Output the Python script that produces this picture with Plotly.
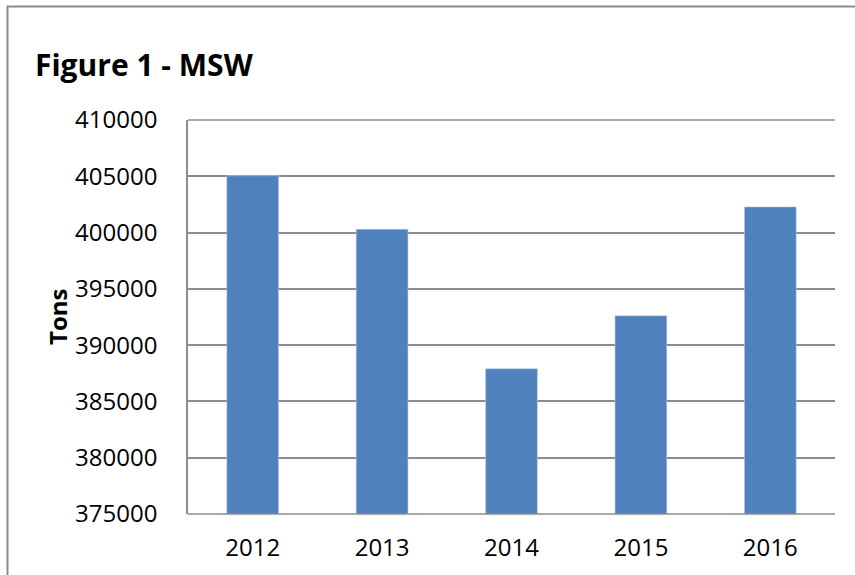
import plotly.graph_objects as go

years = ["2012", "2013", "2014", "2015", "2016"]
tons = [405050, 400290, 387900, 392610, 402280]
y_ticks = [375000, 380000, 385000, 390000, 395000, 400000, 405000, 410000]

W, H = 855, 575
L, R, T, B = 188, 835, 120, 514

fig = go.Figure()
fig.add_trace(go.Bar(
    x=years, y=tons,
    marker=dict(color="#4F81BD", line=dict(color="#B9CDE5", width=0.6)),
    width=0.4,
))

pw, ph = R - L, B - T
def px_x(x):
    return (x - L) / pw
def px_y(y):
    return (B - y) / ph

fig.update_layout(
    width=W, height=H,
    margin=dict(l=L, r=W - R, t=T, b=H - B, pad=0),
    paper_bgcolor="white", plot_bgcolor="white",
    font=dict(family="Open Sans", size=24, color="black"),
    showlegend=False,
    title=dict(text="<b>Figure 1 - MSW</b>", x=35 / W, xanchor="left",
               y=1 - 65 / H, yanchor="middle", xref="container", yref="container",
               font=dict(size=30, family="Open Sans", color="black")),
    xaxis=dict(showgrid=False, showline=False, zeroline=False, ticks="",
               ticklabelstandoff=17, tickfont=dict(size=24)),
    yaxis=dict(range=[375000, 410000], tickvals=y_ticks,
               ticktext=[str(v) for v in y_ticks],
               showgrid=True, gridcolor="#8C8C8C", gridwidth=1.5,
               showline=True, linecolor="#8C8C8C", linewidth=1.5,
               zeroline=False, ticks="", ticklabelstandoff=24,
               tickfont=dict(size=24)),
    shapes=[
        dict(type="rect", xref="paper", yref="paper",
             x0=px_x(7.5), x1=px_x(900), y0=px_y(620), y1=px_y(6.5),
             line=dict(color="#8C8C8C", width=2), layer="below"),
        dict(type="line", xref="paper", yref="paper",
             x0=0, x1=1, y0=0, y1=0,
             line=dict(color="#8C8C8C", width=1.5)),
        dict(type="line", xref="paper", yref="paper",
             x0=0, x1=1, y0=1, y1=1,
             line=dict(color="#8C8C8C", width=1.5)),
    ],
    annotations=[
        dict(text="<b>Tons</b>", xref="paper", yref="paper",
             x=px_x(57), y=px_y(317), textangle=-90, showarrow=False,
             xanchor="center", yanchor="middle",
             font=dict(size=24, family="Open Sans", color="black")),
    ],
)

fig.write_html("out.html",
               config={"displayModeBar": False},
               post_script="document.body.style.margin='0';document.body.style.overflow='hidden';")
